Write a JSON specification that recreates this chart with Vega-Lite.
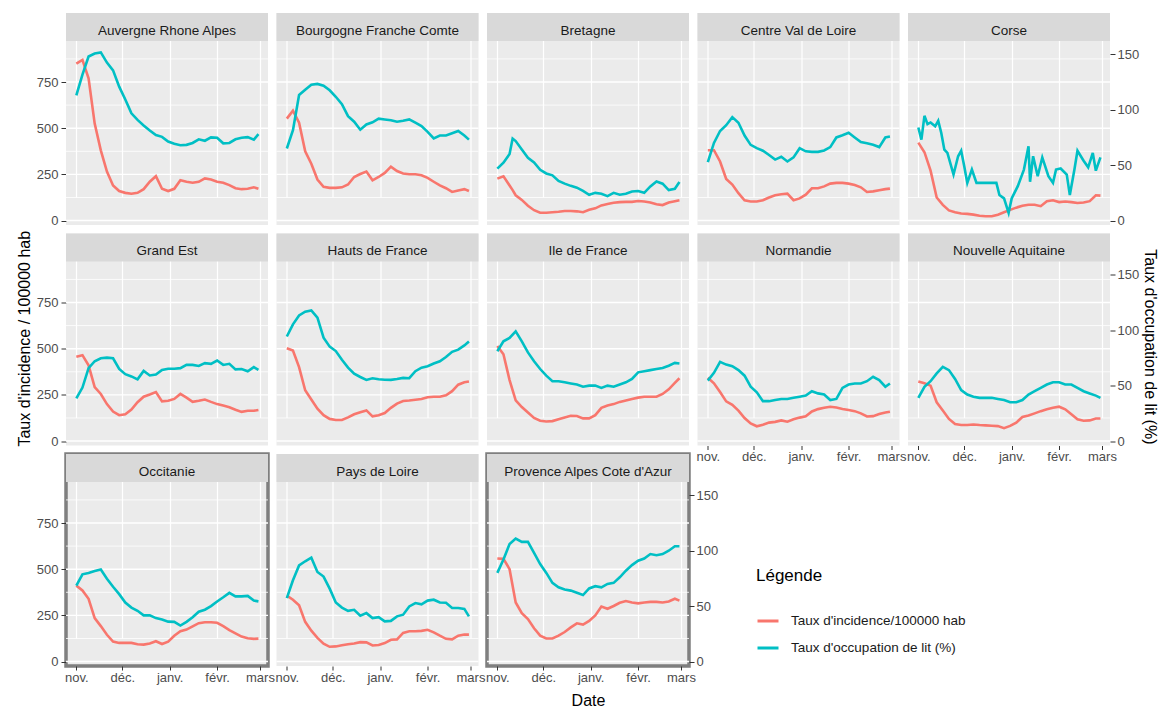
{
"$schema":"https://vega.github.io/schema/vega-lite/v6.json",
"padding":{"left":16,"top":12,"right":5,"bottom":0},
"background":"#ffffff",
"config":{"font":"Liberation Sans","view":{"stroke":null},"axis":{"labelFont":"Liberation Sans","titleFont":"Liberation Sans","labelColor":"#4d4d4d","tickColor":"#333333","gridColor":"#ffffff","domain":false,"labelFontSize":13,"titleFontSize":16,"titleFontWeight":"normal","titleColor":"#000000","labelFlush":false,"labelOverlap":false},"text":{"font":"Liberation Sans"}},
"datasets":{
"grid":[{"g":0},{"g":125},{"g":250},{"g":375},{"g":500},{"g":625},{"g":750},{"g":875}],
"reg":[{"k":"ARA","n":"Auvergne Rhone Alpes"},{"k":"BFC","n":"Bourgogne Franche Comte"},{"k":"BRE","n":"Bretagne"},{"k":"CVL","n":"Centre Val de Loire"},{"k":"COR","n":"Corse"},{"k":"GES","n":"Grand Est"},{"k":"HDF","n":"Hauts de France"},{"k":"IDF","n":"Ile de France"},{"k":"NOR","n":"Normandie"},{"k":"NAQ","n":"Nouvelle Aquitaine"},{"k":"OCC","n":"Occitanie"},{"k":"PDL","n":"Pays de Loire"},{"k":"PAC","n":"Provence Alpes Cote d'Azur"}],
"p":[
{"r":"ARA","d":"2020-11-01","i":850,"o":113},{"r":"ARA","d":"2020-11-05","i":870,"o":131.7},{"r":"ARA","d":"2020-11-09","i":770,"o":148},{"r":"ARA","d":"2020-11-13","i":525,"o":150.7},{"r":"ARA","d":"2020-11-17","i":380,"o":151.7},{"r":"ARA","d":"2020-11-21","i":265,"o":142.5},{"r":"ARA","d":"2020-11-25","i":190,"o":135.5},{"r":"ARA","d":"2020-11-29","i":160,"o":120.8},{"r":"ARA","d":"2020-12-03","i":150,"o":109.2},{"r":"ARA","d":"2020-12-07","i":145,"o":96.7},{"r":"ARA","d":"2020-12-11","i":150,"o":90.8},{"r":"ARA","d":"2020-12-15","i":170,"o":85.8},{"r":"ARA","d":"2020-12-19","i":210,"o":81.3},{"r":"ARA","d":"2020-12-23","i":240,"o":77.2},{"r":"ARA","d":"2020-12-27","i":172,"o":75.5},{"r":"ARA","d":"2020-12-31","i":160,"o":71.3},{"r":"ARA","d":"2021-01-04","i":172,"o":69.3},{"r":"ARA","d":"2021-01-08","i":218,"o":68},{"r":"ARA","d":"2021-01-12","i":210,"o":68.3},{"r":"ARA","d":"2021-01-16","i":205,"o":70},{"r":"ARA","d":"2021-01-20","i":210,"o":73.3},{"r":"ARA","d":"2021-01-24","i":228,"o":72},{"r":"ARA","d":"2021-01-28","i":222,"o":75},{"r":"ARA","d":"2021-02-01","i":210,"o":74.7},{"r":"ARA","d":"2021-02-05","i":205,"o":69.7},{"r":"ARA","d":"2021-02-09","i":192,"o":70},{"r":"ARA","d":"2021-02-13","i":175,"o":73.3},{"r":"ARA","d":"2021-02-17","i":170,"o":74.7},{"r":"ARA","d":"2021-02-21","i":172,"o":75.3},{"r":"ARA","d":"2021-02-25","i":180,"o":73},{"r":"ARA","d":"2021-02-28","i":172,"o":78},
{"r":"BFC","d":"2020-11-01","i":552,"o":65},{"r":"BFC","d":"2020-11-05","i":595,"o":81.5},{"r":"BFC","d":"2020-11-09","i":530,"o":113.3},{"r":"BFC","d":"2020-11-13","i":375,"o":118},{"r":"BFC","d":"2020-11-17","i":308,"o":122.5},{"r":"BFC","d":"2020-11-21","i":222,"o":123.3},{"r":"BFC","d":"2020-11-25","i":183,"o":121.7},{"r":"BFC","d":"2020-11-29","i":177,"o":117.5},{"r":"BFC","d":"2020-12-03","i":177,"o":111.7},{"r":"BFC","d":"2020-12-07","i":180,"o":105},{"r":"BFC","d":"2020-12-11","i":195,"o":94.2},{"r":"BFC","d":"2020-12-15","i":236,"o":89.2},{"r":"BFC","d":"2020-12-19","i":252,"o":82},{"r":"BFC","d":"2020-12-23","i":265,"o":86.7},{"r":"BFC","d":"2020-12-27","i":218,"o":88.7},{"r":"BFC","d":"2020-12-31","i":236,"o":92},{"r":"BFC","d":"2021-01-04","i":258,"o":91.2},{"r":"BFC","d":"2021-01-08","i":292,"o":90.5},{"r":"BFC","d":"2021-01-12","i":268,"o":89.2},{"r":"BFC","d":"2021-01-16","i":255,"o":90},{"r":"BFC","d":"2021-01-20","i":251,"o":91.3},{"r":"BFC","d":"2021-01-24","i":251,"o":88.3},{"r":"BFC","d":"2021-01-28","i":245,"o":85.3},{"r":"BFC","d":"2021-02-01","i":231,"o":80},{"r":"BFC","d":"2021-02-05","i":210,"o":74.2},{"r":"BFC","d":"2021-02-09","i":190,"o":76.7},{"r":"BFC","d":"2021-02-13","i":175,"o":76.7},{"r":"BFC","d":"2021-02-17","i":155,"o":78.7},{"r":"BFC","d":"2021-02-21","i":163,"o":80.8},{"r":"BFC","d":"2021-02-25","i":170,"o":76.7},{"r":"BFC","d":"2021-02-28","i":160,"o":73},
{"r":"BRE","d":"2020-11-01","i":227,"o":46.8},{"r":"BRE","d":"2020-11-05","i":240,"o":52.2},{"r":"BRE","d":"2020-11-09","i":190,"o":60},{"r":"BRE","d":"2020-11-11","i":165,"o":74},{"r":"BRE","d":"2020-11-13","i":137,"o":71.7},{"r":"BRE","d":"2020-11-17","i":112,"o":64.2},{"r":"BRE","d":"2020-11-21","i":80,"o":56.7},{"r":"BRE","d":"2020-11-25","i":56,"o":52.5},{"r":"BRE","d":"2020-11-29","i":42,"o":45.8},{"r":"BRE","d":"2020-12-03","i":42,"o":42.5},{"r":"BRE","d":"2020-12-07","i":45,"o":40.8},{"r":"BRE","d":"2020-12-11","i":48,"o":35.8},{"r":"BRE","d":"2020-12-15","i":52,"o":33.3},{"r":"BRE","d":"2020-12-19","i":52,"o":31.3},{"r":"BRE","d":"2020-12-23","i":50,"o":29.7},{"r":"BRE","d":"2020-12-27","i":45,"o":26.7},{"r":"BRE","d":"2020-12-31","i":58,"o":23.3},{"r":"BRE","d":"2021-01-04","i":66,"o":25},{"r":"BRE","d":"2021-01-08","i":82,"o":24.2},{"r":"BRE","d":"2021-01-12","i":90,"o":22},{"r":"BRE","d":"2021-01-16","i":96,"o":25},{"r":"BRE","d":"2021-01-20","i":100,"o":23.3},{"r":"BRE","d":"2021-01-24","i":101,"o":24.2},{"r":"BRE","d":"2021-01-28","i":101,"o":26.3},{"r":"BRE","d":"2021-02-01","i":106,"o":26.7},{"r":"BRE","d":"2021-02-05","i":103,"o":25},{"r":"BRE","d":"2021-02-09","i":98,"o":30.8},{"r":"BRE","d":"2021-02-13","i":88,"o":35.3},{"r":"BRE","d":"2021-02-17","i":84,"o":33.3},{"r":"BRE","d":"2021-02-21","i":98,"o":27.5},{"r":"BRE","d":"2021-02-25","i":105,"o":28.7},{"r":"BRE","d":"2021-02-28","i":110,"o":34.8},
{"r":"CVL","d":"2020-11-01","i":381,"o":52.8},{"r":"CVL","d":"2020-11-05","i":381,"o":70},{"r":"CVL","d":"2020-11-09","i":320,"o":80.8},{"r":"CVL","d":"2020-11-13","i":225,"o":86},{"r":"CVL","d":"2020-11-17","i":195,"o":93.3},{"r":"CVL","d":"2020-11-21","i":148,"o":88.3},{"r":"CVL","d":"2020-11-25","i":110,"o":76.7},{"r":"CVL","d":"2020-11-29","i":103,"o":68.3},{"r":"CVL","d":"2020-12-03","i":103,"o":65.3},{"r":"CVL","d":"2020-12-07","i":110,"o":63},{"r":"CVL","d":"2020-12-11","i":125,"o":59.2},{"r":"CVL","d":"2020-12-15","i":137,"o":55},{"r":"CVL","d":"2020-12-19","i":142,"o":57.5},{"r":"CVL","d":"2020-12-23","i":146,"o":53.3},{"r":"CVL","d":"2020-12-27","i":110,"o":57},{"r":"CVL","d":"2020-12-31","i":120,"o":65.3},{"r":"CVL","d":"2021-01-04","i":140,"o":62.5},{"r":"CVL","d":"2021-01-08","i":175,"o":62},{"r":"CVL","d":"2021-01-12","i":175,"o":62},{"r":"CVL","d":"2021-01-16","i":185,"o":63.3},{"r":"CVL","d":"2021-01-20","i":200,"o":66.3},{"r":"CVL","d":"2021-01-24","i":204,"o":75},{"r":"CVL","d":"2021-01-28","i":204,"o":77},{"r":"CVL","d":"2021-02-01","i":200,"o":79.2},{"r":"CVL","d":"2021-02-05","i":192,"o":75},{"r":"CVL","d":"2021-02-09","i":180,"o":70.8},{"r":"CVL","d":"2021-02-13","i":155,"o":69.7},{"r":"CVL","d":"2021-02-17","i":158,"o":68.3},{"r":"CVL","d":"2021-02-21","i":164,"o":66.3},{"r":"CVL","d":"2021-02-25","i":170,"o":75},{"r":"CVL","d":"2021-02-28","i":173,"o":75.8},
{"r":"COR","d":"2020-11-01","i":422,"o":84},{"r":"COR","d":"2020-11-03","o":73},{"r":"COR","d":"2020-11-05","i":370,"o":94.5},{"r":"COR","d":"2020-11-07","o":87},{"r":"COR","d":"2020-11-09","i":270,"o":88.5},{"r":"COR","d":"2020-11-12","o":85},{"r":"COR","d":"2020-11-13","i":125},{"r":"COR","d":"2020-11-14","o":90},{"r":"COR","d":"2020-11-16","o":79},{"r":"COR","d":"2020-11-17","i":85},{"r":"COR","d":"2020-11-18","o":64},{"r":"COR","d":"2020-11-20","o":61},{"r":"COR","d":"2020-11-21","i":55},{"r":"COR","d":"2020-11-24","o":41.5},{"r":"COR","d":"2020-11-25","i":45},{"r":"COR","d":"2020-11-27","o":58},{"r":"COR","d":"2020-11-29","i":38,"o":63},{"r":"COR","d":"2020-12-01","o":49},{"r":"COR","d":"2020-12-03","i":36,"o":34},{"r":"COR","d":"2020-12-06","o":46},{"r":"COR","d":"2020-12-07","i":32},{"r":"COR","d":"2020-12-09","o":34},{"r":"COR","d":"2020-12-11","i":26},{"r":"COR","d":"2020-12-14","o":34},{"r":"COR","d":"2020-12-15","i":23},{"r":"COR","d":"2020-12-19","i":23},{"r":"COR","d":"2020-12-22","o":34},{"r":"COR","d":"2020-12-23","i":32},{"r":"COR","d":"2020-12-24","o":23},{"r":"COR","d":"2020-12-27","i":45,"o":20},{"r":"COR","d":"2020-12-30","o":7},{"r":"COR","d":"2020-12-31","i":58},{"r":"COR","d":"2021-01-01","o":20},{"r":"COR","d":"2021-01-04","i":70},{"r":"COR","d":"2021-01-05","o":31},{"r":"COR","d":"2021-01-08","i":80},{"r":"COR","d":"2021-01-09","o":46},{"r":"COR","d":"2021-01-12","i":86,"o":67},{"r":"COR","d":"2021-01-13","o":35},{"r":"COR","d":"2021-01-15","o":58},{"r":"COR","d":"2021-01-16","i":86},{"r":"COR","d":"2021-01-18","o":40},{"r":"COR","d":"2021-01-20","i":78},{"r":"COR","d":"2021-01-21","o":57},{"r":"COR","d":"2021-01-24","i":105},{"r":"COR","d":"2021-01-25","o":40},{"r":"COR","d":"2021-01-28","i":110,"o":34},{"r":"COR","d":"2021-01-30","o":46},{"r":"COR","d":"2021-02-01","i":100},{"r":"COR","d":"2021-02-02","o":47},{"r":"COR","d":"2021-02-05","i":103},{"r":"COR","d":"2021-02-06","o":41.5},{"r":"COR","d":"2021-02-08","o":23},{"r":"COR","d":"2021-02-09","i":100},{"r":"COR","d":"2021-02-11","o":46},{"r":"COR","d":"2021-02-13","i":95,"o":63},{"r":"COR","d":"2021-02-17","i":98,"o":54},{"r":"COR","d":"2021-02-20","o":48},{"r":"COR","d":"2021-02-21","i":105},{"r":"COR","d":"2021-02-23","o":61},{"r":"COR","d":"2021-02-25","i":137,"o":45},{"r":"COR","d":"2021-02-28","i":135,"o":57},
{"r":"GES","d":"2020-11-01","i":457,"o":38.5},{"r":"GES","d":"2020-11-05","i":465,"o":48.3},{"r":"GES","d":"2020-11-09","i":410,"o":65.8},{"r":"GES","d":"2020-11-13","i":292,"o":72},{"r":"GES","d":"2020-11-17","i":255,"o":74.7},{"r":"GES","d":"2020-11-21","i":200,"o":75.3},{"r":"GES","d":"2020-11-25","i":160,"o":74.7},{"r":"GES","d":"2020-11-29","i":140,"o":65},{"r":"GES","d":"2020-12-03","i":145,"o":60.3},{"r":"GES","d":"2020-12-07","i":170,"o":58.3},{"r":"GES","d":"2020-12-11","i":210,"o":55.7},{"r":"GES","d":"2020-12-15","i":240,"o":63.3},{"r":"GES","d":"2020-12-19","i":252,"o":59.2},{"r":"GES","d":"2020-12-23","i":265,"o":60},{"r":"GES","d":"2020-12-27","i":215,"o":64.2},{"r":"GES","d":"2020-12-31","i":218,"o":65.3},{"r":"GES","d":"2021-01-04","i":228,"o":65.3},{"r":"GES","d":"2021-01-08","i":255,"o":65.8},{"r":"GES","d":"2021-01-12","i":235,"o":68.7},{"r":"GES","d":"2021-01-16","i":212,"o":68.7},{"r":"GES","d":"2021-01-20","i":218,"o":67.8},{"r":"GES","d":"2021-01-24","i":225,"o":70.3},{"r":"GES","d":"2021-01-28","i":212,"o":69.7},{"r":"GES","d":"2021-02-01","i":200,"o":72.7},{"r":"GES","d":"2021-02-05","i":192,"o":68.7},{"r":"GES","d":"2021-02-09","i":183,"o":69.7},{"r":"GES","d":"2021-02-13","i":170,"o":64.7},{"r":"GES","d":"2021-02-17","i":158,"o":65},{"r":"GES","d":"2021-02-21","i":164,"o":63},{"r":"GES","d":"2021-02-25","i":164,"o":66.7},{"r":"GES","d":"2021-02-28","i":168,"o":64.2},
{"r":"HDF","d":"2020-11-01","i":502,"o":94.3},{"r":"HDF","d":"2020-11-05","i":490,"o":105.3},{"r":"HDF","d":"2020-11-09","i":400,"o":113.3},{"r":"HDF","d":"2020-11-13","i":275,"o":116.7},{"r":"HDF","d":"2020-11-17","i":225,"o":117.8},{"r":"HDF","d":"2020-11-21","i":175,"o":111.3},{"r":"HDF","d":"2020-11-25","i":140,"o":93.3},{"r":"HDF","d":"2020-11-29","i":120,"o":85.2},{"r":"HDF","d":"2020-12-03","i":114,"o":81.2},{"r":"HDF","d":"2020-12-07","i":114,"o":73.3},{"r":"HDF","d":"2020-12-11","i":128,"o":66.3},{"r":"HDF","d":"2020-12-15","i":145,"o":60.8},{"r":"HDF","d":"2020-12-19","i":156,"o":57.8},{"r":"HDF","d":"2020-12-23","i":166,"o":55.2},{"r":"HDF","d":"2020-12-27","i":134,"o":56.7},{"r":"HDF","d":"2020-12-31","i":140,"o":55.7},{"r":"HDF","d":"2021-01-04","i":152,"o":55.3},{"r":"HDF","d":"2021-01-08","i":180,"o":55.2},{"r":"HDF","d":"2021-01-12","i":203,"o":56},{"r":"HDF","d":"2021-01-16","i":217,"o":57},{"r":"HDF","d":"2021-01-20","i":220,"o":56.7},{"r":"HDF","d":"2021-01-24","i":224,"o":63},{"r":"HDF","d":"2021-01-28","i":228,"o":66.2},{"r":"HDF","d":"2021-02-01","i":237,"o":67.5},{"r":"HDF","d":"2021-02-05","i":240,"o":70},{"r":"HDF","d":"2021-02-09","i":240,"o":72},{"r":"HDF","d":"2021-02-13","i":248,"o":75.8},{"r":"HDF","d":"2021-02-17","i":270,"o":80.5},{"r":"HDF","d":"2021-02-21","i":305,"o":82.5},{"r":"HDF","d":"2021-02-25","i":318,"o":86.3},{"r":"HDF","d":"2021-02-28","i":322,"o":89.8},
{"r":"IDF","d":"2020-11-01","i":515,"o":81},{"r":"IDF","d":"2020-11-05","i":470,"o":90},{"r":"IDF","d":"2020-11-09","i":330,"o":93},{"r":"IDF","d":"2020-11-13","i":220,"o":99},{"r":"IDF","d":"2020-11-17","i":184,"o":90},{"r":"IDF","d":"2020-11-21","i":155,"o":80},{"r":"IDF","d":"2020-11-25","i":125,"o":72},{"r":"IDF","d":"2020-11-29","i":110,"o":65},{"r":"IDF","d":"2020-12-03","i":106,"o":59},{"r":"IDF","d":"2020-12-07","i":108,"o":54},{"r":"IDF","d":"2020-12-11","i":118,"o":54},{"r":"IDF","d":"2020-12-15","i":128,"o":53},{"r":"IDF","d":"2020-12-19","i":137,"o":52},{"r":"IDF","d":"2020-12-23","i":136,"o":51},{"r":"IDF","d":"2020-12-27","i":123,"o":49},{"r":"IDF","d":"2020-12-31","i":123,"o":50},{"r":"IDF","d":"2021-01-04","i":140,"o":50},{"r":"IDF","d":"2021-01-08","i":180,"o":48},{"r":"IDF","d":"2021-01-12","i":192,"o":50},{"r":"IDF","d":"2021-01-16","i":200,"o":49},{"r":"IDF","d":"2021-01-20","i":212,"o":51},{"r":"IDF","d":"2021-01-24","i":220,"o":53},{"r":"IDF","d":"2021-01-28","i":228,"o":56},{"r":"IDF","d":"2021-02-01","i":235,"o":62},{"r":"IDF","d":"2021-02-05","i":240,"o":63},{"r":"IDF","d":"2021-02-09","i":240,"o":64},{"r":"IDF","d":"2021-02-13","i":240,"o":65},{"r":"IDF","d":"2021-02-17","i":255,"o":66},{"r":"IDF","d":"2021-02-21","i":280,"o":68},{"r":"IDF","d":"2021-02-25","i":315,"o":70.5},{"r":"IDF","d":"2021-02-28","i":340,"o":70},
{"r":"NOR","d":"2020-11-01","i":343,"o":54.5},{"r":"NOR","d":"2020-11-05","i":313,"o":61.5},{"r":"NOR","d":"2020-11-09","i":265,"o":71.5},{"r":"NOR","d":"2020-11-13","i":215,"o":69},{"r":"NOR","d":"2020-11-17","i":196,"o":67.5},{"r":"NOR","d":"2020-11-21","i":165,"o":64},{"r":"NOR","d":"2020-11-25","i":125,"o":59},{"r":"NOR","d":"2020-11-29","i":95,"o":49},{"r":"NOR","d":"2020-12-03","i":80,"o":44},{"r":"NOR","d":"2020-12-07","i":88,"o":36},{"r":"NOR","d":"2020-12-11","i":100,"o":36},{"r":"NOR","d":"2020-12-15","i":104,"o":37},{"r":"NOR","d":"2020-12-19","i":112,"o":38},{"r":"NOR","d":"2020-12-23","i":105,"o":38},{"r":"NOR","d":"2020-12-27","i":118,"o":39},{"r":"NOR","d":"2020-12-31","i":127,"o":40},{"r":"NOR","d":"2021-01-04","i":134,"o":41},{"r":"NOR","d":"2021-01-08","i":160,"o":45},{"r":"NOR","d":"2021-01-12","i":173,"o":43},{"r":"NOR","d":"2021-01-16","i":180,"o":42},{"r":"NOR","d":"2021-01-20","i":186,"o":37},{"r":"NOR","d":"2021-01-24","i":182,"o":38},{"r":"NOR","d":"2021-01-28","i":174,"o":48},{"r":"NOR","d":"2021-02-01","i":168,"o":51},{"r":"NOR","d":"2021-02-05","i":162,"o":52},{"r":"NOR","d":"2021-02-09","i":150,"o":52},{"r":"NOR","d":"2021-02-13","i":133,"o":54},{"r":"NOR","d":"2021-02-17","i":135,"o":58},{"r":"NOR","d":"2021-02-21","i":146,"o":55},{"r":"NOR","d":"2021-02-25","i":155,"o":49},{"r":"NOR","d":"2021-02-28","i":159,"o":52},
{"r":"NAQ","d":"2020-11-01","i":322,"o":39},{"r":"NAQ","d":"2020-11-05","i":313,"o":49},{"r":"NAQ","d":"2020-11-09","i":300,"o":54},{"r":"NAQ","d":"2020-11-13","i":210,"o":61},{"r":"NAQ","d":"2020-11-17","i":165,"o":67},{"r":"NAQ","d":"2020-11-21","i":120,"o":64},{"r":"NAQ","d":"2020-11-25","i":92,"o":56},{"r":"NAQ","d":"2020-11-29","i":87,"o":46},{"r":"NAQ","d":"2020-12-03","i":87,"o":42},{"r":"NAQ","d":"2020-12-07","i":90,"o":40},{"r":"NAQ","d":"2020-12-11","i":87,"o":39},{"r":"NAQ","d":"2020-12-15","i":85,"o":39},{"r":"NAQ","d":"2020-12-19","i":83,"o":39},{"r":"NAQ","d":"2020-12-23","i":81,"o":38},{"r":"NAQ","d":"2020-12-27","i":70,"o":37},{"r":"NAQ","d":"2020-12-31","i":82,"o":35},{"r":"NAQ","d":"2021-01-04","i":100,"o":35},{"r":"NAQ","d":"2021-01-08","i":130,"o":37},{"r":"NAQ","d":"2021-01-12","i":138,"o":42},{"r":"NAQ","d":"2021-01-16","i":150,"o":45},{"r":"NAQ","d":"2021-01-20","i":162,"o":48},{"r":"NAQ","d":"2021-01-24","i":172,"o":51},{"r":"NAQ","d":"2021-01-28","i":180,"o":53},{"r":"NAQ","d":"2021-02-01","i":186,"o":53},{"r":"NAQ","d":"2021-02-05","i":172,"o":51},{"r":"NAQ","d":"2021-02-09","i":145,"o":51},{"r":"NAQ","d":"2021-02-13","i":118,"o":48},{"r":"NAQ","d":"2021-02-17","i":110,"o":45},{"r":"NAQ","d":"2021-02-21","i":112,"o":43},{"r":"NAQ","d":"2021-02-25","i":122,"o":41},{"r":"NAQ","d":"2021-02-28","i":122,"o":39},
{"r":"OCC","d":"2020-11-01","i":411,"o":68.5},{"r":"OCC","d":"2020-11-05","i":385,"o":78.7},{"r":"OCC","d":"2020-11-09","i":340,"o":80},{"r":"OCC","d":"2020-11-13","i":235,"o":81.7},{"r":"OCC","d":"2020-11-17","i":192,"o":83},{"r":"OCC","d":"2020-11-21","i":145,"o":74.7},{"r":"OCC","d":"2020-11-25","i":108,"o":67.5},{"r":"OCC","d":"2020-11-29","i":101,"o":60.8},{"r":"OCC","d":"2020-12-03","i":101,"o":53.3},{"r":"OCC","d":"2020-12-07","i":101,"o":48.7},{"r":"OCC","d":"2020-12-11","i":94,"o":45.8},{"r":"OCC","d":"2020-12-15","i":92,"o":41.7},{"r":"OCC","d":"2020-12-19","i":98,"o":41.7},{"r":"OCC","d":"2020-12-23","i":110,"o":39.2},{"r":"OCC","d":"2020-12-27","i":95,"o":38},{"r":"OCC","d":"2020-12-31","i":108,"o":36},{"r":"OCC","d":"2021-01-04","i":140,"o":35.8},{"r":"OCC","d":"2021-01-08","i":164,"o":32.5},{"r":"OCC","d":"2021-01-12","i":173,"o":35.8},{"r":"OCC","d":"2021-01-16","i":191,"o":40},{"r":"OCC","d":"2021-01-20","i":208,"o":45},{"r":"OCC","d":"2021-01-24","i":213,"o":46.8},{"r":"OCC","d":"2021-01-28","i":213,"o":50},{"r":"OCC","d":"2021-02-01","i":210,"o":54.2},{"r":"OCC","d":"2021-02-05","i":192,"o":58},{"r":"OCC","d":"2021-02-09","i":170,"o":62},{"r":"OCC","d":"2021-02-13","i":153,"o":58.8},{"r":"OCC","d":"2021-02-17","i":135,"o":58.8},{"r":"OCC","d":"2021-02-21","i":126,"o":59.2},{"r":"OCC","d":"2021-02-25","i":123,"o":55},{"r":"OCC","d":"2021-02-28","i":124,"o":54.3},
{"r":"PDL","d":"2020-11-01","i":357,"o":57.3},{"r":"PDL","d":"2020-11-05","i":335,"o":73.3},{"r":"PDL","d":"2020-11-09","i":305,"o":86.7},{"r":"PDL","d":"2020-11-13","i":215,"o":90.5},{"r":"PDL","d":"2020-11-17","i":167,"o":93.7},{"r":"PDL","d":"2020-11-21","i":128,"o":80.8},{"r":"PDL","d":"2020-11-25","i":97,"o":76.7},{"r":"PDL","d":"2020-11-29","i":80,"o":65.8},{"r":"PDL","d":"2020-12-03","i":82,"o":53.3},{"r":"PDL","d":"2020-12-07","i":88,"o":48.7},{"r":"PDL","d":"2020-12-11","i":94,"o":45.8},{"r":"PDL","d":"2020-12-15","i":98,"o":46.7},{"r":"PDL","d":"2020-12-19","i":105,"o":41.3},{"r":"PDL","d":"2020-12-23","i":104,"o":43.7},{"r":"PDL","d":"2020-12-27","i":87,"o":39.2},{"r":"PDL","d":"2020-12-31","i":90,"o":40},{"r":"PDL","d":"2021-01-04","i":100,"o":36.3},{"r":"PDL","d":"2021-01-08","i":118,"o":36.7},{"r":"PDL","d":"2021-01-12","i":120,"o":40.8},{"r":"PDL","d":"2021-01-16","i":155,"o":42.3},{"r":"PDL","d":"2021-01-20","i":164,"o":49.7},{"r":"PDL","d":"2021-01-24","i":164,"o":52.8},{"r":"PDL","d":"2021-01-28","i":166,"o":51.7},{"r":"PDL","d":"2021-02-01","i":172,"o":55},{"r":"PDL","d":"2021-02-05","i":158,"o":55.8},{"r":"PDL","d":"2021-02-09","i":140,"o":53.3},{"r":"PDL","d":"2021-02-13","i":123,"o":53},{"r":"PDL","d":"2021-02-17","i":120,"o":48.3},{"r":"PDL","d":"2021-02-21","i":140,"o":48.3},{"r":"PDL","d":"2021-02-25","i":146,"o":47.5},{"r":"PDL","d":"2021-02-28","i":146,"o":40.8},
{"r":"PAC","d":"2020-11-01","i":558,"o":80},{"r":"PAC","d":"2020-11-05","i":556,"o":92},{"r":"PAC","d":"2020-11-09","i":500,"o":106},{"r":"PAC","d":"2020-11-13","i":320,"o":111},{"r":"PAC","d":"2020-11-17","i":262,"o":108},{"r":"PAC","d":"2020-11-21","i":230,"o":108},{"r":"PAC","d":"2020-11-25","i":180,"o":98},{"r":"PAC","d":"2020-11-29","i":140,"o":88},{"r":"PAC","d":"2020-12-03","i":125,"o":80},{"r":"PAC","d":"2020-12-07","i":125,"o":71},{"r":"PAC","d":"2020-12-11","i":140,"o":67},{"r":"PAC","d":"2020-12-15","i":160,"o":65},{"r":"PAC","d":"2020-12-19","i":185,"o":64},{"r":"PAC","d":"2020-12-23","i":207,"o":62},{"r":"PAC","d":"2020-12-27","i":200,"o":60},{"r":"PAC","d":"2020-12-31","i":220,"o":66},{"r":"PAC","d":"2021-01-04","i":250,"o":68},{"r":"PAC","d":"2021-01-08","i":298,"o":67},{"r":"PAC","d":"2021-01-12","i":286,"o":70},{"r":"PAC","d":"2021-01-16","i":301,"o":71},{"r":"PAC","d":"2021-01-20","i":318,"o":76},{"r":"PAC","d":"2021-01-24","i":328,"o":82},{"r":"PAC","d":"2021-01-28","i":320,"o":87},{"r":"PAC","d":"2021-02-01","i":315,"o":91},{"r":"PAC","d":"2021-02-05","i":320,"o":93},{"r":"PAC","d":"2021-02-09","i":323,"o":97},{"r":"PAC","d":"2021-02-13","i":323,"o":96},{"r":"PAC","d":"2021-02-17","i":320,"o":97},{"r":"PAC","d":"2021-02-21","i":325,"o":100},{"r":"PAC","d":"2021-02-25","i":340,"o":104},{"r":"PAC","d":"2021-02-28","i":330,"o":104}
]},
"columns":5,
"spacing":{"row":8.5,"column":8.5},
"bounds":"flush",
"concat":[
{"width":202,"height":212,"view":{"fill":"#ebebeb","stroke":null},"layer":[
 {"data":{"name":"grid"},"mark":{"type":"rule","color":"#ffffff"},"encoding":{"x":{"datum":{"year":2020,"month":10,"date":25,"hours":6,"utc":true},"type":"temporal"},"x2":{"datum":{"year":2021,"month":3,"date":6,"hours":6,"utc":true}},"y":{"field":"g","type":"quantitative","scale":{"domain":[-24,972],"range":[212,28],"nice":false,"zero":false},"axis":null},"strokeWidth":{"condition":{"test":"datum.g % 250 == 0","value":1.4},"value":0.8}}},
 {"data":{"name":"p"},"transform":[{"filter":"datum.r=='ARA' && isValid(datum.i)"}],"mark":{"type":"line","strokeWidth":2.6},"encoding":{
  "x":{"field":"d","type":"temporal","scale":{"type":"utc","nice":false,"domain":[{"year":2020,"month":10,"date":25,"hours":6,"utc":true},{"year":2021,"month":3,"date":6,"hours":6,"utc":true}]},"axis":{"values":[{"year":2020,"month":11,"date":1,"utc":true},{"year":2020,"month":11,"date":16,"utc":true},{"year":2020,"month":12,"date":1,"utc":true},{"year":2020,"month":12,"date":16,"hours":12,"utc":true},{"year":2021,"month":1,"date":1,"utc":true},{"year":2021,"month":1,"date":16,"hours":12,"utc":true},{"year":2021,"month":2,"date":1,"utc":true},{"year":2021,"month":2,"date":15,"utc":true},{"year":2021,"month":3,"date":1,"utc":true}],"grid":true,"labels":false,"ticks":false,"title":null,"gridWidth":{"condition":{"test":"utcdate(datum.value)==1","value":1.2},"value":0.6}}},
  "y":{"field":"i","type":"quantitative","scale":{"domain":[-24,972],"range":[212,28],"nice":false,"zero":false},"axis":{"orient":"left","grid":false,"values":[0,250,500,750],"title":null,"tickSize":5,"labelPadding":3}},
  "color":{"datum":"Taux d'incidence/100000 hab","type":"nominal","scale":{"domain":["Taux d'incidence/100000 hab","Taux d'occupation de lit (%)"],"range":["#F8766D","#00BFC4"]},"legend":{"title":"Légende","orient":"none","legendX":690,"legendY":555,"symbolType":"stroke","symbolStrokeWidth":3,"symbolSize":441,"labelFontSize":13.5,"labelFont":"Liberation Sans","labelColor":"#1a1a1a","titleFontSize":17,"titleFont":"Liberation Sans","titleFontWeight":"normal","titleColor":"#000000","titlePadding":24,"rowPadding":8,"labelOffset":11,"labelLimit":300,"padding":0,"symbolOffset":0}}}},
 {"data":{"name":"p"},"transform":[{"filter":"datum.r=='ARA' && isValid(datum.o)"}],"mark":{"type":"line","strokeWidth":2.6},"encoding":{
  "x":{"field":"d","type":"temporal","scale":{"type":"utc","nice":false,"domain":[{"year":2020,"month":10,"date":25,"hours":6,"utc":true},{"year":2021,"month":3,"date":6,"hours":6,"utc":true}]},"axis":{"values":[{"year":2020,"month":11,"date":1,"utc":true},{"year":2020,"month":11,"date":16,"utc":true},{"year":2020,"month":12,"date":1,"utc":true},{"year":2020,"month":12,"date":16,"hours":12,"utc":true},{"year":2021,"month":1,"date":1,"utc":true},{"year":2021,"month":1,"date":16,"hours":12,"utc":true},{"year":2021,"month":2,"date":1,"utc":true},{"year":2021,"month":2,"date":15,"utc":true},{"year":2021,"month":3,"date":1,"utc":true}],"grid":true,"labels":false,"ticks":false,"title":null,"gridWidth":{"condition":{"test":"utcdate(datum.value)==1","value":1.2},"value":0.6}}},
  "y":{"field":"o","type":"quantitative","scale":{"domain":[-4,162],"range":[212,28],"nice":false,"zero":false},"axis":null},
  "color":{"datum":"Taux d'occupation de lit (%)","type":"nominal"}}},
 {"data":{"name":"reg"},"transform":[{"filter":"datum.k=='ARA'"}],"mark":{"type":"rect","color":"#d9d9d9"},"encoding":{"y":{"datum":972,"type":"quantitative","scale":{"domain":[-24,972],"range":[212,28],"nice":false,"zero":false},"axis":null},"y2":{"datum":1124}}},
 {"data":{"name":"reg"},"transform":[{"filter":"datum.k=='ARA'"}],"mark":{"type":"text","fontSize":13.5,"color":"#1a1a1a","baseline":"alphabetic"},"encoding":{"y":{"datum":1006,"type":"quantitative","scale":{"domain":[-24,972],"range":[212,28],"nice":false,"zero":false},"axis":null},"text":{"field":"n","type":"nominal"}}}
],"resolve":{"scale":{"y":"independent"}}},
{"width":202,"height":212,"view":{"fill":"#ebebeb","stroke":null},"layer":[
 {"data":{"name":"grid"},"mark":{"type":"rule","color":"#ffffff"},"encoding":{"x":{"datum":{"year":2020,"month":10,"date":25,"hours":6,"utc":true},"type":"temporal"},"x2":{"datum":{"year":2021,"month":3,"date":6,"hours":6,"utc":true}},"y":{"field":"g","type":"quantitative","scale":{"domain":[-24,972],"range":[212,28],"nice":false,"zero":false},"axis":null},"strokeWidth":{"condition":{"test":"datum.g % 250 == 0","value":1.4},"value":0.8}}},
 {"data":{"name":"p"},"transform":[{"filter":"datum.r=='BFC' && isValid(datum.i)"}],"mark":{"type":"line","strokeWidth":2.6},"encoding":{
  "x":{"field":"d","type":"temporal","scale":{"type":"utc","nice":false,"domain":[{"year":2020,"month":10,"date":25,"hours":6,"utc":true},{"year":2021,"month":3,"date":6,"hours":6,"utc":true}]},"axis":{"values":[{"year":2020,"month":11,"date":1,"utc":true},{"year":2020,"month":11,"date":16,"utc":true},{"year":2020,"month":12,"date":1,"utc":true},{"year":2020,"month":12,"date":16,"hours":12,"utc":true},{"year":2021,"month":1,"date":1,"utc":true},{"year":2021,"month":1,"date":16,"hours":12,"utc":true},{"year":2021,"month":2,"date":1,"utc":true},{"year":2021,"month":2,"date":15,"utc":true},{"year":2021,"month":3,"date":1,"utc":true}],"grid":true,"labels":false,"ticks":false,"title":null,"gridWidth":{"condition":{"test":"utcdate(datum.value)==1","value":1.2},"value":0.6}}},
  "y":{"field":"i","type":"quantitative","scale":{"domain":[-24,972],"range":[212,28],"nice":false,"zero":false},"axis":null},
  "color":{"datum":"Taux d'incidence/100000 hab","type":"nominal"}}},
 {"data":{"name":"p"},"transform":[{"filter":"datum.r=='BFC' && isValid(datum.o)"}],"mark":{"type":"line","strokeWidth":2.6},"encoding":{
  "x":{"field":"d","type":"temporal","scale":{"type":"utc","nice":false,"domain":[{"year":2020,"month":10,"date":25,"hours":6,"utc":true},{"year":2021,"month":3,"date":6,"hours":6,"utc":true}]},"axis":{"values":[{"year":2020,"month":11,"date":1,"utc":true},{"year":2020,"month":11,"date":16,"utc":true},{"year":2020,"month":12,"date":1,"utc":true},{"year":2020,"month":12,"date":16,"hours":12,"utc":true},{"year":2021,"month":1,"date":1,"utc":true},{"year":2021,"month":1,"date":16,"hours":12,"utc":true},{"year":2021,"month":2,"date":1,"utc":true},{"year":2021,"month":2,"date":15,"utc":true},{"year":2021,"month":3,"date":1,"utc":true}],"grid":true,"labels":false,"ticks":false,"title":null,"gridWidth":{"condition":{"test":"utcdate(datum.value)==1","value":1.2},"value":0.6}}},
  "y":{"field":"o","type":"quantitative","scale":{"domain":[-4,162],"range":[212,28],"nice":false,"zero":false},"axis":null},
  "color":{"datum":"Taux d'occupation de lit (%)","type":"nominal"}}},
 {"data":{"name":"reg"},"transform":[{"filter":"datum.k=='BFC'"}],"mark":{"type":"rect","color":"#d9d9d9"},"encoding":{"y":{"datum":972,"type":"quantitative","scale":{"domain":[-24,972],"range":[212,28],"nice":false,"zero":false},"axis":null},"y2":{"datum":1124}}},
 {"data":{"name":"reg"},"transform":[{"filter":"datum.k=='BFC'"}],"mark":{"type":"text","fontSize":13.5,"color":"#1a1a1a","baseline":"alphabetic"},"encoding":{"y":{"datum":1006,"type":"quantitative","scale":{"domain":[-24,972],"range":[212,28],"nice":false,"zero":false},"axis":null},"text":{"field":"n","type":"nominal"}}}
],"resolve":{"scale":{"y":"independent"}}},
{"width":202,"height":212,"view":{"fill":"#ebebeb","stroke":null},"layer":[
 {"data":{"name":"grid"},"mark":{"type":"rule","color":"#ffffff"},"encoding":{"x":{"datum":{"year":2020,"month":10,"date":25,"hours":6,"utc":true},"type":"temporal"},"x2":{"datum":{"year":2021,"month":3,"date":6,"hours":6,"utc":true}},"y":{"field":"g","type":"quantitative","scale":{"domain":[-24,972],"range":[212,28],"nice":false,"zero":false},"axis":null},"strokeWidth":{"condition":{"test":"datum.g % 250 == 0","value":1.4},"value":0.8}}},
 {"data":{"name":"p"},"transform":[{"filter":"datum.r=='BRE' && isValid(datum.i)"}],"mark":{"type":"line","strokeWidth":2.6},"encoding":{
  "x":{"field":"d","type":"temporal","scale":{"type":"utc","nice":false,"domain":[{"year":2020,"month":10,"date":25,"hours":6,"utc":true},{"year":2021,"month":3,"date":6,"hours":6,"utc":true}]},"axis":{"values":[{"year":2020,"month":11,"date":1,"utc":true},{"year":2020,"month":11,"date":16,"utc":true},{"year":2020,"month":12,"date":1,"utc":true},{"year":2020,"month":12,"date":16,"hours":12,"utc":true},{"year":2021,"month":1,"date":1,"utc":true},{"year":2021,"month":1,"date":16,"hours":12,"utc":true},{"year":2021,"month":2,"date":1,"utc":true},{"year":2021,"month":2,"date":15,"utc":true},{"year":2021,"month":3,"date":1,"utc":true}],"grid":true,"labels":false,"ticks":false,"title":null,"gridWidth":{"condition":{"test":"utcdate(datum.value)==1","value":1.2},"value":0.6}}},
  "y":{"field":"i","type":"quantitative","scale":{"domain":[-24,972],"range":[212,28],"nice":false,"zero":false},"axis":null},
  "color":{"datum":"Taux d'incidence/100000 hab","type":"nominal"}}},
 {"data":{"name":"p"},"transform":[{"filter":"datum.r=='BRE' && isValid(datum.o)"}],"mark":{"type":"line","strokeWidth":2.6},"encoding":{
  "x":{"field":"d","type":"temporal","scale":{"type":"utc","nice":false,"domain":[{"year":2020,"month":10,"date":25,"hours":6,"utc":true},{"year":2021,"month":3,"date":6,"hours":6,"utc":true}]},"axis":{"values":[{"year":2020,"month":11,"date":1,"utc":true},{"year":2020,"month":11,"date":16,"utc":true},{"year":2020,"month":12,"date":1,"utc":true},{"year":2020,"month":12,"date":16,"hours":12,"utc":true},{"year":2021,"month":1,"date":1,"utc":true},{"year":2021,"month":1,"date":16,"hours":12,"utc":true},{"year":2021,"month":2,"date":1,"utc":true},{"year":2021,"month":2,"date":15,"utc":true},{"year":2021,"month":3,"date":1,"utc":true}],"grid":true,"labels":false,"ticks":false,"title":null,"gridWidth":{"condition":{"test":"utcdate(datum.value)==1","value":1.2},"value":0.6}}},
  "y":{"field":"o","type":"quantitative","scale":{"domain":[-4,162],"range":[212,28],"nice":false,"zero":false},"axis":null},
  "color":{"datum":"Taux d'occupation de lit (%)","type":"nominal"}}},
 {"data":{"name":"reg"},"transform":[{"filter":"datum.k=='BRE'"}],"mark":{"type":"rect","color":"#d9d9d9"},"encoding":{"y":{"datum":972,"type":"quantitative","scale":{"domain":[-24,972],"range":[212,28],"nice":false,"zero":false},"axis":null},"y2":{"datum":1124}}},
 {"data":{"name":"reg"},"transform":[{"filter":"datum.k=='BRE'"}],"mark":{"type":"text","fontSize":13.5,"color":"#1a1a1a","baseline":"alphabetic"},"encoding":{"y":{"datum":1006,"type":"quantitative","scale":{"domain":[-24,972],"range":[212,28],"nice":false,"zero":false},"axis":null},"text":{"field":"n","type":"nominal"}}}
],"resolve":{"scale":{"y":"independent"}}},
{"width":202,"height":212,"view":{"fill":"#ebebeb","stroke":null},"layer":[
 {"data":{"name":"grid"},"mark":{"type":"rule","color":"#ffffff"},"encoding":{"x":{"datum":{"year":2020,"month":10,"date":25,"hours":6,"utc":true},"type":"temporal"},"x2":{"datum":{"year":2021,"month":3,"date":6,"hours":6,"utc":true}},"y":{"field":"g","type":"quantitative","scale":{"domain":[-24,972],"range":[212,28],"nice":false,"zero":false},"axis":null},"strokeWidth":{"condition":{"test":"datum.g % 250 == 0","value":1.4},"value":0.8}}},
 {"data":{"name":"p"},"transform":[{"filter":"datum.r=='CVL' && isValid(datum.i)"}],"mark":{"type":"line","strokeWidth":2.6},"encoding":{
  "x":{"field":"d","type":"temporal","scale":{"type":"utc","nice":false,"domain":[{"year":2020,"month":10,"date":25,"hours":6,"utc":true},{"year":2021,"month":3,"date":6,"hours":6,"utc":true}]},"axis":{"values":[{"year":2020,"month":11,"date":1,"utc":true},{"year":2020,"month":11,"date":16,"utc":true},{"year":2020,"month":12,"date":1,"utc":true},{"year":2020,"month":12,"date":16,"hours":12,"utc":true},{"year":2021,"month":1,"date":1,"utc":true},{"year":2021,"month":1,"date":16,"hours":12,"utc":true},{"year":2021,"month":2,"date":1,"utc":true},{"year":2021,"month":2,"date":15,"utc":true},{"year":2021,"month":3,"date":1,"utc":true}],"grid":true,"labels":false,"ticks":false,"title":null,"gridWidth":{"condition":{"test":"utcdate(datum.value)==1","value":1.2},"value":0.6}}},
  "y":{"field":"i","type":"quantitative","scale":{"domain":[-24,972],"range":[212,28],"nice":false,"zero":false},"axis":null},
  "color":{"datum":"Taux d'incidence/100000 hab","type":"nominal"}}},
 {"data":{"name":"p"},"transform":[{"filter":"datum.r=='CVL' && isValid(datum.o)"}],"mark":{"type":"line","strokeWidth":2.6},"encoding":{
  "x":{"field":"d","type":"temporal","scale":{"type":"utc","nice":false,"domain":[{"year":2020,"month":10,"date":25,"hours":6,"utc":true},{"year":2021,"month":3,"date":6,"hours":6,"utc":true}]},"axis":{"values":[{"year":2020,"month":11,"date":1,"utc":true},{"year":2020,"month":11,"date":16,"utc":true},{"year":2020,"month":12,"date":1,"utc":true},{"year":2020,"month":12,"date":16,"hours":12,"utc":true},{"year":2021,"month":1,"date":1,"utc":true},{"year":2021,"month":1,"date":16,"hours":12,"utc":true},{"year":2021,"month":2,"date":1,"utc":true},{"year":2021,"month":2,"date":15,"utc":true},{"year":2021,"month":3,"date":1,"utc":true}],"grid":true,"labels":false,"ticks":false,"title":null,"gridWidth":{"condition":{"test":"utcdate(datum.value)==1","value":1.2},"value":0.6}}},
  "y":{"field":"o","type":"quantitative","scale":{"domain":[-4,162],"range":[212,28],"nice":false,"zero":false},"axis":null},
  "color":{"datum":"Taux d'occupation de lit (%)","type":"nominal"}}},
 {"data":{"name":"reg"},"transform":[{"filter":"datum.k=='CVL'"}],"mark":{"type":"rect","color":"#d9d9d9"},"encoding":{"y":{"datum":972,"type":"quantitative","scale":{"domain":[-24,972],"range":[212,28],"nice":false,"zero":false},"axis":null},"y2":{"datum":1124}}},
 {"data":{"name":"reg"},"transform":[{"filter":"datum.k=='CVL'"}],"mark":{"type":"text","fontSize":13.5,"color":"#1a1a1a","baseline":"alphabetic"},"encoding":{"y":{"datum":1006,"type":"quantitative","scale":{"domain":[-24,972],"range":[212,28],"nice":false,"zero":false},"axis":null},"text":{"field":"n","type":"nominal"}}}
],"resolve":{"scale":{"y":"independent"}}},
{"width":202,"height":212,"view":{"fill":"#ebebeb","stroke":null},"layer":[
 {"data":{"name":"grid"},"mark":{"type":"rule","color":"#ffffff"},"encoding":{"x":{"datum":{"year":2020,"month":10,"date":25,"hours":6,"utc":true},"type":"temporal"},"x2":{"datum":{"year":2021,"month":3,"date":6,"hours":6,"utc":true}},"y":{"field":"g","type":"quantitative","scale":{"domain":[-24,972],"range":[212,28],"nice":false,"zero":false},"axis":null},"strokeWidth":{"condition":{"test":"datum.g % 250 == 0","value":1.4},"value":0.8}}},
 {"data":{"name":"p"},"transform":[{"filter":"datum.r=='COR' && isValid(datum.i)"}],"mark":{"type":"line","strokeWidth":2.6},"encoding":{
  "x":{"field":"d","type":"temporal","scale":{"type":"utc","nice":false,"domain":[{"year":2020,"month":10,"date":25,"hours":6,"utc":true},{"year":2021,"month":3,"date":6,"hours":6,"utc":true}]},"axis":{"values":[{"year":2020,"month":11,"date":1,"utc":true},{"year":2020,"month":11,"date":16,"utc":true},{"year":2020,"month":12,"date":1,"utc":true},{"year":2020,"month":12,"date":16,"hours":12,"utc":true},{"year":2021,"month":1,"date":1,"utc":true},{"year":2021,"month":1,"date":16,"hours":12,"utc":true},{"year":2021,"month":2,"date":1,"utc":true},{"year":2021,"month":2,"date":15,"utc":true},{"year":2021,"month":3,"date":1,"utc":true}],"grid":true,"labels":false,"ticks":false,"title":null,"gridWidth":{"condition":{"test":"utcdate(datum.value)==1","value":1.2},"value":0.6}}},
  "y":{"field":"i","type":"quantitative","scale":{"domain":[-24,972],"range":[212,28],"nice":false,"zero":false},"axis":null},
  "color":{"datum":"Taux d'incidence/100000 hab","type":"nominal"}}},
 {"data":{"name":"p"},"transform":[{"filter":"datum.r=='COR' && isValid(datum.o)"}],"mark":{"type":"line","strokeWidth":2.6},"encoding":{
  "x":{"field":"d","type":"temporal","scale":{"type":"utc","nice":false,"domain":[{"year":2020,"month":10,"date":25,"hours":6,"utc":true},{"year":2021,"month":3,"date":6,"hours":6,"utc":true}]},"axis":{"values":[{"year":2020,"month":11,"date":1,"utc":true},{"year":2020,"month":11,"date":16,"utc":true},{"year":2020,"month":12,"date":1,"utc":true},{"year":2020,"month":12,"date":16,"hours":12,"utc":true},{"year":2021,"month":1,"date":1,"utc":true},{"year":2021,"month":1,"date":16,"hours":12,"utc":true},{"year":2021,"month":2,"date":1,"utc":true},{"year":2021,"month":2,"date":15,"utc":true},{"year":2021,"month":3,"date":1,"utc":true}],"grid":true,"labels":false,"ticks":false,"title":null,"gridWidth":{"condition":{"test":"utcdate(datum.value)==1","value":1.2},"value":0.6}}},
  "y":{"field":"o","type":"quantitative","scale":{"domain":[-4,162],"range":[212,28],"nice":false,"zero":false},"axis":{"orient":"right","values":[0,50,100,150],"grid":false,"title":null,"tickSize":5,"labelPadding":2}},
  "color":{"datum":"Taux d'occupation de lit (%)","type":"nominal"}}},
 {"data":{"name":"reg"},"transform":[{"filter":"datum.k=='COR'"}],"mark":{"type":"rect","color":"#d9d9d9"},"encoding":{"y":{"datum":972,"type":"quantitative","scale":{"domain":[-24,972],"range":[212,28],"nice":false,"zero":false},"axis":null},"y2":{"datum":1124}}},
 {"data":{"name":"reg"},"transform":[{"filter":"datum.k=='COR'"}],"mark":{"type":"text","fontSize":13.5,"color":"#1a1a1a","baseline":"alphabetic"},"encoding":{"y":{"datum":1006,"type":"quantitative","scale":{"domain":[-24,972],"range":[212,28],"nice":false,"zero":false},"axis":null},"text":{"field":"n","type":"nominal"}}}
],"resolve":{"scale":{"y":"independent"}}},
{"width":202,"height":212,"view":{"fill":"#ebebeb","stroke":null},"layer":[
 {"data":{"name":"grid"},"mark":{"type":"rule","color":"#ffffff"},"encoding":{"x":{"datum":{"year":2020,"month":10,"date":25,"hours":6,"utc":true},"type":"temporal"},"x2":{"datum":{"year":2021,"month":3,"date":6,"hours":6,"utc":true}},"y":{"field":"g","type":"quantitative","scale":{"domain":[-24,972],"range":[212,28],"nice":false,"zero":false},"axis":null},"strokeWidth":{"condition":{"test":"datum.g % 250 == 0","value":1.4},"value":0.8}}},
 {"data":{"name":"p"},"transform":[{"filter":"datum.r=='GES' && isValid(datum.i)"}],"mark":{"type":"line","strokeWidth":2.6},"encoding":{
  "x":{"field":"d","type":"temporal","scale":{"type":"utc","nice":false,"domain":[{"year":2020,"month":10,"date":25,"hours":6,"utc":true},{"year":2021,"month":3,"date":6,"hours":6,"utc":true}]},"axis":{"values":[{"year":2020,"month":11,"date":1,"utc":true},{"year":2020,"month":11,"date":16,"utc":true},{"year":2020,"month":12,"date":1,"utc":true},{"year":2020,"month":12,"date":16,"hours":12,"utc":true},{"year":2021,"month":1,"date":1,"utc":true},{"year":2021,"month":1,"date":16,"hours":12,"utc":true},{"year":2021,"month":2,"date":1,"utc":true},{"year":2021,"month":2,"date":15,"utc":true},{"year":2021,"month":3,"date":1,"utc":true}],"grid":true,"labels":false,"ticks":false,"title":null,"gridWidth":{"condition":{"test":"utcdate(datum.value)==1","value":1.2},"value":0.6}}},
  "y":{"field":"i","type":"quantitative","scale":{"domain":[-24,972],"range":[212,28],"nice":false,"zero":false},"axis":{"orient":"left","grid":false,"values":[0,250,500,750],"title":"Taux d'incidence / 100000 hab","titleY":104.7,"titlePadding":4,"tickSize":5,"labelPadding":3}},
  "color":{"datum":"Taux d'incidence/100000 hab","type":"nominal"}}},
 {"data":{"name":"p"},"transform":[{"filter":"datum.r=='GES' && isValid(datum.o)"}],"mark":{"type":"line","strokeWidth":2.6},"encoding":{
  "x":{"field":"d","type":"temporal","scale":{"type":"utc","nice":false,"domain":[{"year":2020,"month":10,"date":25,"hours":6,"utc":true},{"year":2021,"month":3,"date":6,"hours":6,"utc":true}]},"axis":{"values":[{"year":2020,"month":11,"date":1,"utc":true},{"year":2020,"month":11,"date":16,"utc":true},{"year":2020,"month":12,"date":1,"utc":true},{"year":2020,"month":12,"date":16,"hours":12,"utc":true},{"year":2021,"month":1,"date":1,"utc":true},{"year":2021,"month":1,"date":16,"hours":12,"utc":true},{"year":2021,"month":2,"date":1,"utc":true},{"year":2021,"month":2,"date":15,"utc":true},{"year":2021,"month":3,"date":1,"utc":true}],"grid":true,"labels":false,"ticks":false,"title":null,"gridWidth":{"condition":{"test":"utcdate(datum.value)==1","value":1.2},"value":0.6}}},
  "y":{"field":"o","type":"quantitative","scale":{"domain":[-4,162],"range":[212,28],"nice":false,"zero":false},"axis":null},
  "color":{"datum":"Taux d'occupation de lit (%)","type":"nominal"}}},
 {"data":{"name":"reg"},"transform":[{"filter":"datum.k=='GES'"}],"mark":{"type":"rect","color":"#d9d9d9"},"encoding":{"y":{"datum":972,"type":"quantitative","scale":{"domain":[-24,972],"range":[212,28],"nice":false,"zero":false},"axis":null},"y2":{"datum":1124}}},
 {"data":{"name":"reg"},"transform":[{"filter":"datum.k=='GES'"}],"mark":{"type":"text","fontSize":13.5,"color":"#1a1a1a","baseline":"alphabetic"},"encoding":{"y":{"datum":1006,"type":"quantitative","scale":{"domain":[-24,972],"range":[212,28],"nice":false,"zero":false},"axis":null},"text":{"field":"n","type":"nominal"}}}
],"resolve":{"scale":{"y":"independent"}}},
{"width":202,"height":212,"view":{"fill":"#ebebeb","stroke":null},"layer":[
 {"data":{"name":"grid"},"mark":{"type":"rule","color":"#ffffff"},"encoding":{"x":{"datum":{"year":2020,"month":10,"date":25,"hours":6,"utc":true},"type":"temporal"},"x2":{"datum":{"year":2021,"month":3,"date":6,"hours":6,"utc":true}},"y":{"field":"g","type":"quantitative","scale":{"domain":[-24,972],"range":[212,28],"nice":false,"zero":false},"axis":null},"strokeWidth":{"condition":{"test":"datum.g % 250 == 0","value":1.4},"value":0.8}}},
 {"data":{"name":"p"},"transform":[{"filter":"datum.r=='HDF' && isValid(datum.i)"}],"mark":{"type":"line","strokeWidth":2.6},"encoding":{
  "x":{"field":"d","type":"temporal","scale":{"type":"utc","nice":false,"domain":[{"year":2020,"month":10,"date":25,"hours":6,"utc":true},{"year":2021,"month":3,"date":6,"hours":6,"utc":true}]},"axis":{"values":[{"year":2020,"month":11,"date":1,"utc":true},{"year":2020,"month":11,"date":16,"utc":true},{"year":2020,"month":12,"date":1,"utc":true},{"year":2020,"month":12,"date":16,"hours":12,"utc":true},{"year":2021,"month":1,"date":1,"utc":true},{"year":2021,"month":1,"date":16,"hours":12,"utc":true},{"year":2021,"month":2,"date":1,"utc":true},{"year":2021,"month":2,"date":15,"utc":true},{"year":2021,"month":3,"date":1,"utc":true}],"grid":true,"labels":false,"ticks":false,"title":null,"gridWidth":{"condition":{"test":"utcdate(datum.value)==1","value":1.2},"value":0.6}}},
  "y":{"field":"i","type":"quantitative","scale":{"domain":[-24,972],"range":[212,28],"nice":false,"zero":false},"axis":null},
  "color":{"datum":"Taux d'incidence/100000 hab","type":"nominal"}}},
 {"data":{"name":"p"},"transform":[{"filter":"datum.r=='HDF' && isValid(datum.o)"}],"mark":{"type":"line","strokeWidth":2.6},"encoding":{
  "x":{"field":"d","type":"temporal","scale":{"type":"utc","nice":false,"domain":[{"year":2020,"month":10,"date":25,"hours":6,"utc":true},{"year":2021,"month":3,"date":6,"hours":6,"utc":true}]},"axis":{"values":[{"year":2020,"month":11,"date":1,"utc":true},{"year":2020,"month":11,"date":16,"utc":true},{"year":2020,"month":12,"date":1,"utc":true},{"year":2020,"month":12,"date":16,"hours":12,"utc":true},{"year":2021,"month":1,"date":1,"utc":true},{"year":2021,"month":1,"date":16,"hours":12,"utc":true},{"year":2021,"month":2,"date":1,"utc":true},{"year":2021,"month":2,"date":15,"utc":true},{"year":2021,"month":3,"date":1,"utc":true}],"grid":true,"labels":false,"ticks":false,"title":null,"gridWidth":{"condition":{"test":"utcdate(datum.value)==1","value":1.2},"value":0.6}}},
  "y":{"field":"o","type":"quantitative","scale":{"domain":[-4,162],"range":[212,28],"nice":false,"zero":false},"axis":null},
  "color":{"datum":"Taux d'occupation de lit (%)","type":"nominal"}}},
 {"data":{"name":"reg"},"transform":[{"filter":"datum.k=='HDF'"}],"mark":{"type":"rect","color":"#d9d9d9"},"encoding":{"y":{"datum":972,"type":"quantitative","scale":{"domain":[-24,972],"range":[212,28],"nice":false,"zero":false},"axis":null},"y2":{"datum":1124}}},
 {"data":{"name":"reg"},"transform":[{"filter":"datum.k=='HDF'"}],"mark":{"type":"text","fontSize":13.5,"color":"#1a1a1a","baseline":"alphabetic"},"encoding":{"y":{"datum":1006,"type":"quantitative","scale":{"domain":[-24,972],"range":[212,28],"nice":false,"zero":false},"axis":null},"text":{"field":"n","type":"nominal"}}}
],"resolve":{"scale":{"y":"independent"}}},
{"width":202,"height":212,"view":{"fill":"#ebebeb","stroke":null},"layer":[
 {"data":{"name":"grid"},"mark":{"type":"rule","color":"#ffffff"},"encoding":{"x":{"datum":{"year":2020,"month":10,"date":25,"hours":6,"utc":true},"type":"temporal"},"x2":{"datum":{"year":2021,"month":3,"date":6,"hours":6,"utc":true}},"y":{"field":"g","type":"quantitative","scale":{"domain":[-24,972],"range":[212,28],"nice":false,"zero":false},"axis":null},"strokeWidth":{"condition":{"test":"datum.g % 250 == 0","value":1.4},"value":0.8}}},
 {"data":{"name":"p"},"transform":[{"filter":"datum.r=='IDF' && isValid(datum.i)"}],"mark":{"type":"line","strokeWidth":2.6},"encoding":{
  "x":{"field":"d","type":"temporal","scale":{"type":"utc","nice":false,"domain":[{"year":2020,"month":10,"date":25,"hours":6,"utc":true},{"year":2021,"month":3,"date":6,"hours":6,"utc":true}]},"axis":{"values":[{"year":2020,"month":11,"date":1,"utc":true},{"year":2020,"month":11,"date":16,"utc":true},{"year":2020,"month":12,"date":1,"utc":true},{"year":2020,"month":12,"date":16,"hours":12,"utc":true},{"year":2021,"month":1,"date":1,"utc":true},{"year":2021,"month":1,"date":16,"hours":12,"utc":true},{"year":2021,"month":2,"date":1,"utc":true},{"year":2021,"month":2,"date":15,"utc":true},{"year":2021,"month":3,"date":1,"utc":true}],"grid":true,"labels":false,"ticks":false,"title":null,"gridWidth":{"condition":{"test":"utcdate(datum.value)==1","value":1.2},"value":0.6}}},
  "y":{"field":"i","type":"quantitative","scale":{"domain":[-24,972],"range":[212,28],"nice":false,"zero":false},"axis":null},
  "color":{"datum":"Taux d'incidence/100000 hab","type":"nominal"}}},
 {"data":{"name":"p"},"transform":[{"filter":"datum.r=='IDF' && isValid(datum.o)"}],"mark":{"type":"line","strokeWidth":2.6},"encoding":{
  "x":{"field":"d","type":"temporal","scale":{"type":"utc","nice":false,"domain":[{"year":2020,"month":10,"date":25,"hours":6,"utc":true},{"year":2021,"month":3,"date":6,"hours":6,"utc":true}]},"axis":{"values":[{"year":2020,"month":11,"date":1,"utc":true},{"year":2020,"month":11,"date":16,"utc":true},{"year":2020,"month":12,"date":1,"utc":true},{"year":2020,"month":12,"date":16,"hours":12,"utc":true},{"year":2021,"month":1,"date":1,"utc":true},{"year":2021,"month":1,"date":16,"hours":12,"utc":true},{"year":2021,"month":2,"date":1,"utc":true},{"year":2021,"month":2,"date":15,"utc":true},{"year":2021,"month":3,"date":1,"utc":true}],"grid":true,"labels":false,"ticks":false,"title":null,"gridWidth":{"condition":{"test":"utcdate(datum.value)==1","value":1.2},"value":0.6}}},
  "y":{"field":"o","type":"quantitative","scale":{"domain":[-4,162],"range":[212,28],"nice":false,"zero":false},"axis":null},
  "color":{"datum":"Taux d'occupation de lit (%)","type":"nominal"}}},
 {"data":{"name":"reg"},"transform":[{"filter":"datum.k=='IDF'"}],"mark":{"type":"rect","color":"#d9d9d9"},"encoding":{"y":{"datum":972,"type":"quantitative","scale":{"domain":[-24,972],"range":[212,28],"nice":false,"zero":false},"axis":null},"y2":{"datum":1124}}},
 {"data":{"name":"reg"},"transform":[{"filter":"datum.k=='IDF'"}],"mark":{"type":"text","fontSize":13.5,"color":"#1a1a1a","baseline":"alphabetic"},"encoding":{"y":{"datum":1006,"type":"quantitative","scale":{"domain":[-24,972],"range":[212,28],"nice":false,"zero":false},"axis":null},"text":{"field":"n","type":"nominal"}}}
],"resolve":{"scale":{"y":"independent"}}},
{"width":202,"height":212,"view":{"fill":"#ebebeb","stroke":null},"layer":[
 {"data":{"name":"grid"},"mark":{"type":"rule","color":"#ffffff"},"encoding":{"x":{"datum":{"year":2020,"month":10,"date":25,"hours":6,"utc":true},"type":"temporal"},"x2":{"datum":{"year":2021,"month":3,"date":6,"hours":6,"utc":true}},"y":{"field":"g","type":"quantitative","scale":{"domain":[-24,972],"range":[212,28],"nice":false,"zero":false},"axis":null},"strokeWidth":{"condition":{"test":"datum.g % 250 == 0","value":1.4},"value":0.8}}},
 {"data":{"name":"p"},"transform":[{"filter":"datum.r=='NOR' && isValid(datum.i)"}],"mark":{"type":"line","strokeWidth":2.6},"encoding":{
  "x":{"field":"d","type":"temporal","scale":{"type":"utc","nice":false,"domain":[{"year":2020,"month":10,"date":25,"hours":6,"utc":true},{"year":2021,"month":3,"date":6,"hours":6,"utc":true}]},"axis":{"values":[{"year":2020,"month":11,"date":1,"utc":true},{"year":2020,"month":11,"date":16,"utc":true},{"year":2020,"month":12,"date":1,"utc":true},{"year":2020,"month":12,"date":16,"hours":12,"utc":true},{"year":2021,"month":1,"date":1,"utc":true},{"year":2021,"month":1,"date":16,"hours":12,"utc":true},{"year":2021,"month":2,"date":1,"utc":true},{"year":2021,"month":2,"date":15,"utc":true},{"year":2021,"month":3,"date":1,"utc":true}],"grid":true,"title":null,"labelExpr":"utcdate(datum.value)==1 ? ['janv.','févr.','mars','avr.','mai','juin','juil.','août','sept.','oct.','nov.','déc.'][utcmonth(datum.value)] : ''","gridWidth":{"condition":{"test":"utcdate(datum.value)==1","value":1.2},"value":0.6},"tickSize":4,"tickOpacity":{"condition":{"test":"utcdate(datum.value)==1","value":1},"value":0},"labelPadding":1}},
  "y":{"field":"i","type":"quantitative","scale":{"domain":[-24,972],"range":[212,28],"nice":false,"zero":false},"axis":null},
  "color":{"datum":"Taux d'incidence/100000 hab","type":"nominal"}}},
 {"data":{"name":"p"},"transform":[{"filter":"datum.r=='NOR' && isValid(datum.o)"}],"mark":{"type":"line","strokeWidth":2.6},"encoding":{
  "x":{"field":"d","type":"temporal","scale":{"type":"utc","nice":false,"domain":[{"year":2020,"month":10,"date":25,"hours":6,"utc":true},{"year":2021,"month":3,"date":6,"hours":6,"utc":true}]},"axis":{"values":[{"year":2020,"month":11,"date":1,"utc":true},{"year":2020,"month":11,"date":16,"utc":true},{"year":2020,"month":12,"date":1,"utc":true},{"year":2020,"month":12,"date":16,"hours":12,"utc":true},{"year":2021,"month":1,"date":1,"utc":true},{"year":2021,"month":1,"date":16,"hours":12,"utc":true},{"year":2021,"month":2,"date":1,"utc":true},{"year":2021,"month":2,"date":15,"utc":true},{"year":2021,"month":3,"date":1,"utc":true}],"grid":true,"title":null,"labelExpr":"utcdate(datum.value)==1 ? ['janv.','févr.','mars','avr.','mai','juin','juil.','août','sept.','oct.','nov.','déc.'][utcmonth(datum.value)] : ''","gridWidth":{"condition":{"test":"utcdate(datum.value)==1","value":1.2},"value":0.6},"tickSize":4,"tickOpacity":{"condition":{"test":"utcdate(datum.value)==1","value":1},"value":0},"labelPadding":1}},
  "y":{"field":"o","type":"quantitative","scale":{"domain":[-4,162],"range":[212,28],"nice":false,"zero":false},"axis":null},
  "color":{"datum":"Taux d'occupation de lit (%)","type":"nominal"}}},
 {"data":{"name":"reg"},"transform":[{"filter":"datum.k=='NOR'"}],"mark":{"type":"rect","color":"#d9d9d9"},"encoding":{"y":{"datum":972,"type":"quantitative","scale":{"domain":[-24,972],"range":[212,28],"nice":false,"zero":false},"axis":null},"y2":{"datum":1124}}},
 {"data":{"name":"reg"},"transform":[{"filter":"datum.k=='NOR'"}],"mark":{"type":"text","fontSize":13.5,"color":"#1a1a1a","baseline":"alphabetic"},"encoding":{"y":{"datum":1006,"type":"quantitative","scale":{"domain":[-24,972],"range":[212,28],"nice":false,"zero":false},"axis":null},"text":{"field":"n","type":"nominal"}}}
],"resolve":{"scale":{"y":"independent"}}},
{"width":202,"height":212,"view":{"fill":"#ebebeb","stroke":null},"layer":[
 {"data":{"name":"grid"},"mark":{"type":"rule","color":"#ffffff"},"encoding":{"x":{"datum":{"year":2020,"month":10,"date":25,"hours":6,"utc":true},"type":"temporal"},"x2":{"datum":{"year":2021,"month":3,"date":6,"hours":6,"utc":true}},"y":{"field":"g","type":"quantitative","scale":{"domain":[-24,972],"range":[212,28],"nice":false,"zero":false},"axis":null},"strokeWidth":{"condition":{"test":"datum.g % 250 == 0","value":1.4},"value":0.8}}},
 {"data":{"name":"p"},"transform":[{"filter":"datum.r=='NAQ' && isValid(datum.i)"}],"mark":{"type":"line","strokeWidth":2.6},"encoding":{
  "x":{"field":"d","type":"temporal","scale":{"type":"utc","nice":false,"domain":[{"year":2020,"month":10,"date":25,"hours":6,"utc":true},{"year":2021,"month":3,"date":6,"hours":6,"utc":true}]},"axis":{"values":[{"year":2020,"month":11,"date":1,"utc":true},{"year":2020,"month":11,"date":16,"utc":true},{"year":2020,"month":12,"date":1,"utc":true},{"year":2020,"month":12,"date":16,"hours":12,"utc":true},{"year":2021,"month":1,"date":1,"utc":true},{"year":2021,"month":1,"date":16,"hours":12,"utc":true},{"year":2021,"month":2,"date":1,"utc":true},{"year":2021,"month":2,"date":15,"utc":true},{"year":2021,"month":3,"date":1,"utc":true}],"grid":true,"title":null,"labelExpr":"utcdate(datum.value)==1 ? ['janv.','févr.','mars','avr.','mai','juin','juil.','août','sept.','oct.','nov.','déc.'][utcmonth(datum.value)] : ''","gridWidth":{"condition":{"test":"utcdate(datum.value)==1","value":1.2},"value":0.6},"tickSize":4,"tickOpacity":{"condition":{"test":"utcdate(datum.value)==1","value":1},"value":0},"labelPadding":1}},
  "y":{"field":"i","type":"quantitative","scale":{"domain":[-24,972],"range":[212,28],"nice":false,"zero":false},"axis":null},
  "color":{"datum":"Taux d'incidence/100000 hab","type":"nominal"}}},
 {"data":{"name":"p"},"transform":[{"filter":"datum.r=='NAQ' && isValid(datum.o)"}],"mark":{"type":"line","strokeWidth":2.6},"encoding":{
  "x":{"field":"d","type":"temporal","scale":{"type":"utc","nice":false,"domain":[{"year":2020,"month":10,"date":25,"hours":6,"utc":true},{"year":2021,"month":3,"date":6,"hours":6,"utc":true}]},"axis":{"values":[{"year":2020,"month":11,"date":1,"utc":true},{"year":2020,"month":11,"date":16,"utc":true},{"year":2020,"month":12,"date":1,"utc":true},{"year":2020,"month":12,"date":16,"hours":12,"utc":true},{"year":2021,"month":1,"date":1,"utc":true},{"year":2021,"month":1,"date":16,"hours":12,"utc":true},{"year":2021,"month":2,"date":1,"utc":true},{"year":2021,"month":2,"date":15,"utc":true},{"year":2021,"month":3,"date":1,"utc":true}],"grid":true,"title":null,"labelExpr":"utcdate(datum.value)==1 ? ['janv.','févr.','mars','avr.','mai','juin','juil.','août','sept.','oct.','nov.','déc.'][utcmonth(datum.value)] : ''","gridWidth":{"condition":{"test":"utcdate(datum.value)==1","value":1.2},"value":0.6},"tickSize":4,"tickOpacity":{"condition":{"test":"utcdate(datum.value)==1","value":1},"value":0},"labelPadding":1}},
  "y":{"field":"o","type":"quantitative","scale":{"domain":[-4,162],"range":[212,28],"nice":false,"zero":false},"axis":{"orient":"right","values":[0,50,100,150],"grid":false,"title":"Taux d'occupation de lit (%)","titleY":112.9,"titlePadding":3,"tickSize":5,"labelPadding":2}},
  "color":{"datum":"Taux d'occupation de lit (%)","type":"nominal"}}},
 {"data":{"name":"reg"},"transform":[{"filter":"datum.k=='NAQ'"}],"mark":{"type":"rect","color":"#d9d9d9"},"encoding":{"y":{"datum":972,"type":"quantitative","scale":{"domain":[-24,972],"range":[212,28],"nice":false,"zero":false},"axis":null},"y2":{"datum":1124}}},
 {"data":{"name":"reg"},"transform":[{"filter":"datum.k=='NAQ'"}],"mark":{"type":"text","fontSize":13.5,"color":"#1a1a1a","baseline":"alphabetic"},"encoding":{"y":{"datum":1006,"type":"quantitative","scale":{"domain":[-24,972],"range":[212,28],"nice":false,"zero":false},"axis":null},"text":{"field":"n","type":"nominal"}}}
],"resolve":{"scale":{"y":"independent"}}},
{"width":202,"height":212,"view":{"fill":"#ebebeb","stroke":"#7f7f7f","strokeWidth":3.5},"layer":[
 {"data":{"name":"grid"},"mark":{"type":"rule","color":"#ffffff"},"encoding":{"x":{"datum":{"year":2020,"month":10,"date":25,"hours":6,"utc":true},"type":"temporal"},"x2":{"datum":{"year":2021,"month":3,"date":6,"hours":6,"utc":true}},"y":{"field":"g","type":"quantitative","scale":{"domain":[-24,972],"range":[212,28],"nice":false,"zero":false},"axis":null},"strokeWidth":{"condition":{"test":"datum.g % 250 == 0","value":1.4},"value":0.8}}},
 {"data":{"name":"p"},"transform":[{"filter":"datum.r=='OCC' && isValid(datum.i)"}],"mark":{"type":"line","strokeWidth":2.6},"encoding":{
  "x":{"field":"d","type":"temporal","scale":{"type":"utc","nice":false,"domain":[{"year":2020,"month":10,"date":25,"hours":6,"utc":true},{"year":2021,"month":3,"date":6,"hours":6,"utc":true}]},"axis":{"values":[{"year":2020,"month":11,"date":1,"utc":true},{"year":2020,"month":11,"date":16,"utc":true},{"year":2020,"month":12,"date":1,"utc":true},{"year":2020,"month":12,"date":16,"hours":12,"utc":true},{"year":2021,"month":1,"date":1,"utc":true},{"year":2021,"month":1,"date":16,"hours":12,"utc":true},{"year":2021,"month":2,"date":1,"utc":true},{"year":2021,"month":2,"date":15,"utc":true},{"year":2021,"month":3,"date":1,"utc":true}],"grid":true,"title":null,"labelExpr":"utcdate(datum.value)==1 ? ['janv.','févr.','mars','avr.','mai','juin','juil.','août','sept.','oct.','nov.','déc.'][utcmonth(datum.value)] : ''","gridWidth":{"condition":{"test":"utcdate(datum.value)==1","value":1.2},"value":0.6},"tickSize":4,"tickOpacity":{"condition":{"test":"utcdate(datum.value)==1","value":1},"value":0},"labelPadding":1}},
  "y":{"field":"i","type":"quantitative","scale":{"domain":[-24,972],"range":[212,28],"nice":false,"zero":false},"axis":{"orient":"left","grid":false,"values":[0,250,500,750],"title":null,"tickSize":5,"labelPadding":3}},
  "color":{"datum":"Taux d'incidence/100000 hab","type":"nominal"}}},
 {"data":{"name":"p"},"transform":[{"filter":"datum.r=='OCC' && isValid(datum.o)"}],"mark":{"type":"line","strokeWidth":2.6},"encoding":{
  "x":{"field":"d","type":"temporal","scale":{"type":"utc","nice":false,"domain":[{"year":2020,"month":10,"date":25,"hours":6,"utc":true},{"year":2021,"month":3,"date":6,"hours":6,"utc":true}]},"axis":{"values":[{"year":2020,"month":11,"date":1,"utc":true},{"year":2020,"month":11,"date":16,"utc":true},{"year":2020,"month":12,"date":1,"utc":true},{"year":2020,"month":12,"date":16,"hours":12,"utc":true},{"year":2021,"month":1,"date":1,"utc":true},{"year":2021,"month":1,"date":16,"hours":12,"utc":true},{"year":2021,"month":2,"date":1,"utc":true},{"year":2021,"month":2,"date":15,"utc":true},{"year":2021,"month":3,"date":1,"utc":true}],"grid":true,"title":null,"labelExpr":"utcdate(datum.value)==1 ? ['janv.','févr.','mars','avr.','mai','juin','juil.','août','sept.','oct.','nov.','déc.'][utcmonth(datum.value)] : ''","gridWidth":{"condition":{"test":"utcdate(datum.value)==1","value":1.2},"value":0.6},"tickSize":4,"tickOpacity":{"condition":{"test":"utcdate(datum.value)==1","value":1},"value":0},"labelPadding":1}},
  "y":{"field":"o","type":"quantitative","scale":{"domain":[-4,162],"range":[212,28],"nice":false,"zero":false},"axis":null},
  "color":{"datum":"Taux d'occupation de lit (%)","type":"nominal"}}},
 {"data":{"name":"reg"},"transform":[{"filter":"datum.k=='OCC'"}],"mark":{"type":"rect","color":"#d9d9d9"},"encoding":{"y":{"datum":972,"type":"quantitative","scale":{"domain":[-24,972],"range":[212,28],"nice":false,"zero":false},"axis":null},"y2":{"datum":1124}}},
 {"data":{"name":"reg"},"transform":[{"filter":"datum.k=='OCC'"}],"mark":{"type":"text","fontSize":13.5,"color":"#1a1a1a","baseline":"alphabetic"},"encoding":{"y":{"datum":1006,"type":"quantitative","scale":{"domain":[-24,972],"range":[212,28],"nice":false,"zero":false},"axis":null},"text":{"field":"n","type":"nominal"}}}
],"resolve":{"scale":{"y":"independent"}}},
{"width":202,"height":212,"view":{"fill":"#ebebeb","stroke":null},"layer":[
 {"data":{"name":"grid"},"mark":{"type":"rule","color":"#ffffff"},"encoding":{"x":{"datum":{"year":2020,"month":10,"date":25,"hours":6,"utc":true},"type":"temporal"},"x2":{"datum":{"year":2021,"month":3,"date":6,"hours":6,"utc":true}},"y":{"field":"g","type":"quantitative","scale":{"domain":[-24,972],"range":[212,28],"nice":false,"zero":false},"axis":null},"strokeWidth":{"condition":{"test":"datum.g % 250 == 0","value":1.4},"value":0.8}}},
 {"data":{"name":"p"},"transform":[{"filter":"datum.r=='PDL' && isValid(datum.i)"}],"mark":{"type":"line","strokeWidth":2.6},"encoding":{
  "x":{"field":"d","type":"temporal","scale":{"type":"utc","nice":false,"domain":[{"year":2020,"month":10,"date":25,"hours":6,"utc":true},{"year":2021,"month":3,"date":6,"hours":6,"utc":true}]},"axis":{"values":[{"year":2020,"month":11,"date":1,"utc":true},{"year":2020,"month":11,"date":16,"utc":true},{"year":2020,"month":12,"date":1,"utc":true},{"year":2020,"month":12,"date":16,"hours":12,"utc":true},{"year":2021,"month":1,"date":1,"utc":true},{"year":2021,"month":1,"date":16,"hours":12,"utc":true},{"year":2021,"month":2,"date":1,"utc":true},{"year":2021,"month":2,"date":15,"utc":true},{"year":2021,"month":3,"date":1,"utc":true}],"grid":true,"title":null,"labelExpr":"utcdate(datum.value)==1 ? ['janv.','févr.','mars','avr.','mai','juin','juil.','août','sept.','oct.','nov.','déc.'][utcmonth(datum.value)] : ''","gridWidth":{"condition":{"test":"utcdate(datum.value)==1","value":1.2},"value":0.6},"tickSize":4,"tickOpacity":{"condition":{"test":"utcdate(datum.value)==1","value":1},"value":0},"labelPadding":1}},
  "y":{"field":"i","type":"quantitative","scale":{"domain":[-24,972],"range":[212,28],"nice":false,"zero":false},"axis":null},
  "color":{"datum":"Taux d'incidence/100000 hab","type":"nominal"}}},
 {"data":{"name":"p"},"transform":[{"filter":"datum.r=='PDL' && isValid(datum.o)"}],"mark":{"type":"line","strokeWidth":2.6},"encoding":{
  "x":{"field":"d","type":"temporal","scale":{"type":"utc","nice":false,"domain":[{"year":2020,"month":10,"date":25,"hours":6,"utc":true},{"year":2021,"month":3,"date":6,"hours":6,"utc":true}]},"axis":{"values":[{"year":2020,"month":11,"date":1,"utc":true},{"year":2020,"month":11,"date":16,"utc":true},{"year":2020,"month":12,"date":1,"utc":true},{"year":2020,"month":12,"date":16,"hours":12,"utc":true},{"year":2021,"month":1,"date":1,"utc":true},{"year":2021,"month":1,"date":16,"hours":12,"utc":true},{"year":2021,"month":2,"date":1,"utc":true},{"year":2021,"month":2,"date":15,"utc":true},{"year":2021,"month":3,"date":1,"utc":true}],"grid":true,"title":null,"labelExpr":"utcdate(datum.value)==1 ? ['janv.','févr.','mars','avr.','mai','juin','juil.','août','sept.','oct.','nov.','déc.'][utcmonth(datum.value)] : ''","gridWidth":{"condition":{"test":"utcdate(datum.value)==1","value":1.2},"value":0.6},"tickSize":4,"tickOpacity":{"condition":{"test":"utcdate(datum.value)==1","value":1},"value":0},"labelPadding":1}},
  "y":{"field":"o","type":"quantitative","scale":{"domain":[-4,162],"range":[212,28],"nice":false,"zero":false},"axis":null},
  "color":{"datum":"Taux d'occupation de lit (%)","type":"nominal"}}},
 {"data":{"name":"reg"},"transform":[{"filter":"datum.k=='PDL'"}],"mark":{"type":"rect","color":"#d9d9d9"},"encoding":{"y":{"datum":972,"type":"quantitative","scale":{"domain":[-24,972],"range":[212,28],"nice":false,"zero":false},"axis":null},"y2":{"datum":1124}}},
 {"data":{"name":"reg"},"transform":[{"filter":"datum.k=='PDL'"}],"mark":{"type":"text","fontSize":13.5,"color":"#1a1a1a","baseline":"alphabetic"},"encoding":{"y":{"datum":1006,"type":"quantitative","scale":{"domain":[-24,972],"range":[212,28],"nice":false,"zero":false},"axis":null},"text":{"field":"n","type":"nominal"}}}
],"resolve":{"scale":{"y":"independent"}}},
{"width":202,"height":212,"view":{"fill":"#ebebeb","stroke":"#7f7f7f","strokeWidth":3.5},"layer":[
 {"data":{"name":"grid"},"mark":{"type":"rule","color":"#ffffff"},"encoding":{"x":{"datum":{"year":2020,"month":10,"date":25,"hours":6,"utc":true},"type":"temporal"},"x2":{"datum":{"year":2021,"month":3,"date":6,"hours":6,"utc":true}},"y":{"field":"g","type":"quantitative","scale":{"domain":[-24,972],"range":[212,28],"nice":false,"zero":false},"axis":null},"strokeWidth":{"condition":{"test":"datum.g % 250 == 0","value":1.4},"value":0.8}}},
 {"data":{"name":"p"},"transform":[{"filter":"datum.r=='PAC' && isValid(datum.i)"}],"mark":{"type":"line","strokeWidth":2.6},"encoding":{
  "x":{"field":"d","type":"temporal","scale":{"type":"utc","nice":false,"domain":[{"year":2020,"month":10,"date":25,"hours":6,"utc":true},{"year":2021,"month":3,"date":6,"hours":6,"utc":true}]},"axis":{"values":[{"year":2020,"month":11,"date":1,"utc":true},{"year":2020,"month":11,"date":16,"utc":true},{"year":2020,"month":12,"date":1,"utc":true},{"year":2020,"month":12,"date":16,"hours":12,"utc":true},{"year":2021,"month":1,"date":1,"utc":true},{"year":2021,"month":1,"date":16,"hours":12,"utc":true},{"year":2021,"month":2,"date":1,"utc":true},{"year":2021,"month":2,"date":15,"utc":true},{"year":2021,"month":3,"date":1,"utc":true}],"grid":true,"title":"Date","titlePadding":8,"labelExpr":"utcdate(datum.value)==1 ? ['janv.','févr.','mars','avr.','mai','juin','juil.','août','sept.','oct.','nov.','déc.'][utcmonth(datum.value)] : ''","gridWidth":{"condition":{"test":"utcdate(datum.value)==1","value":1.2},"value":0.6},"tickSize":4,"tickOpacity":{"condition":{"test":"utcdate(datum.value)==1","value":1},"value":0},"labelPadding":1}},
  "y":{"field":"i","type":"quantitative","scale":{"domain":[-24,972],"range":[212,28],"nice":false,"zero":false},"axis":null},
  "color":{"datum":"Taux d'incidence/100000 hab","type":"nominal"}}},
 {"data":{"name":"p"},"transform":[{"filter":"datum.r=='PAC' && isValid(datum.o)"}],"mark":{"type":"line","strokeWidth":2.6},"encoding":{
  "x":{"field":"d","type":"temporal","scale":{"type":"utc","nice":false,"domain":[{"year":2020,"month":10,"date":25,"hours":6,"utc":true},{"year":2021,"month":3,"date":6,"hours":6,"utc":true}]},"axis":{"values":[{"year":2020,"month":11,"date":1,"utc":true},{"year":2020,"month":11,"date":16,"utc":true},{"year":2020,"month":12,"date":1,"utc":true},{"year":2020,"month":12,"date":16,"hours":12,"utc":true},{"year":2021,"month":1,"date":1,"utc":true},{"year":2021,"month":1,"date":16,"hours":12,"utc":true},{"year":2021,"month":2,"date":1,"utc":true},{"year":2021,"month":2,"date":15,"utc":true},{"year":2021,"month":3,"date":1,"utc":true}],"grid":true,"title":"Date","titlePadding":8,"labelExpr":"utcdate(datum.value)==1 ? ['janv.','févr.','mars','avr.','mai','juin','juil.','août','sept.','oct.','nov.','déc.'][utcmonth(datum.value)] : ''","gridWidth":{"condition":{"test":"utcdate(datum.value)==1","value":1.2},"value":0.6},"tickSize":4,"tickOpacity":{"condition":{"test":"utcdate(datum.value)==1","value":1},"value":0},"labelPadding":1}},
  "y":{"field":"o","type":"quantitative","scale":{"domain":[-4,162],"range":[212,28],"nice":false,"zero":false},"axis":{"orient":"right","values":[0,50,100,150],"grid":false,"title":null,"tickSize":5,"labelPadding":2}},
  "color":{"datum":"Taux d'occupation de lit (%)","type":"nominal"}}},
 {"data":{"name":"reg"},"transform":[{"filter":"datum.k=='PAC'"}],"mark":{"type":"rect","color":"#d9d9d9"},"encoding":{"y":{"datum":972,"type":"quantitative","scale":{"domain":[-24,972],"range":[212,28],"nice":false,"zero":false},"axis":null},"y2":{"datum":1124}}},
 {"data":{"name":"reg"},"transform":[{"filter":"datum.k=='PAC'"}],"mark":{"type":"text","fontSize":13.5,"color":"#1a1a1a","baseline":"alphabetic"},"encoding":{"y":{"datum":1006,"type":"quantitative","scale":{"domain":[-24,972],"range":[212,28],"nice":false,"zero":false},"axis":null},"text":{"field":"n","type":"nominal"}}}
],"resolve":{"scale":{"y":"independent"}}}
]
}
